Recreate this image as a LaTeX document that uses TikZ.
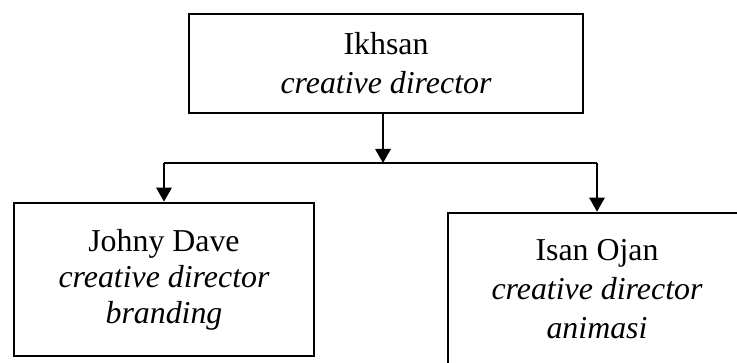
\documentclass[tikz,border=0pt]{standalone}
\usepackage{fontspec}
\setmainfont{Liberation Serif}
\usetikzlibrary{positioning}
\usetikzlibrary{arrows.meta}

\begin{document}
\begin{tikzpicture}[x=0.75pt, y=-0.75pt,
  personBox/.style={draw=black, line width=2pt, rectangle, align=center, inner sep=0pt},
  boxFont/.style={font=\fontsize{23.9}{29.25}\selectfont},
  downArrow/.style={-{Triangle[length=10.5pt,width=11.5pt]}, line width=1.5pt},
  barLine/.style={line width=1pt}]

\useasboundingbox (0,0) rectangle (737,363);
\clip (0,0) rectangle (737,363);

% boxes
{
\node[personBox, boxFont, minimum width=295.5pt, minimum height=74.25pt] (ikhsan) at (386,63.5)
{Ikhsan\\ \textit{creative director}};

\node[personBox, font=\fontsize{23.9}{27}\selectfont, minimum width=225pt, minimum height=114.75pt] (johny) at (164,279.5)
{Johny Dave\\ \textit{creative director}\\ \textit{branding}};

% right box runs off the page
\node[personBox, boxFont, minimum width=223.5pt, minimum height=114.75pt] (isan) at (597,289.5)
{Isan Ojan\\ \textit{creative director}\\ \textit{animasi}};
}

% connectors
{
\coordinate (split) at (383,163);

\draw[barLine] (johny.north |- split) -- (isan.north |- split);

\draw[downArrow] (ikhsan.south -| split) -- (split);
\draw[downArrow] (johny.north |- split) -- (johny.north);
\draw[downArrow] (isan.north |- split) -- (isan.north);
}

\end{tikzpicture}
\end{document}
